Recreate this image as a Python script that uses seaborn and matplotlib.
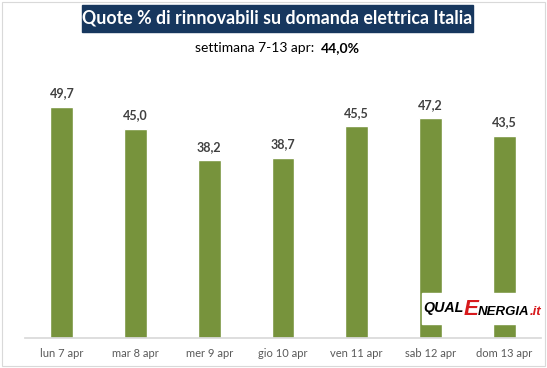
import matplotlib
matplotlib.use("Agg")
import matplotlib.pyplot as plt
import seaborn as sns
from matplotlib.patches import Rectangle

days = ["lun 7 apr", "mar 8 apr", "mer 9 apr", "gio 10 apr",
        "ven 11 apr", "sab 12 apr", "dom 13 apr"]
shares = [49.7, 45.0, 38.2, 38.7, 45.5, 47.2, 43.5]
title = "Quote % di rinnovabili su domanda elettrica Italia"
subtitle = "settimana 7-13 apr:"
weekly = "44,0%"

sns.set_theme(style="white")
plt.rcParams["font.family"] = ["Lato", "DejaVu Sans"]

fig = plt.figure(figsize=(5.47, 3.68), dpi=100)
ax = fig.add_axes([25 / 547, 1 - 338 / 368, 516 / 547, 270 / 368])

sns.barplot(x=days, y=shares, color="#77933C", width=0.31, saturation=1,
            ax=ax)
ax.set_ylim(0, 58)
ax.set_xlim(-0.5, 6.5)
ax.set_yticks([])
for s in ["top", "right", "left"]:
    ax.spines[s].set_visible(False)
ax.spines["bottom"].set_color("#D9D9D9")
ax.tick_params(axis="x", length=0, labelsize=8, labelcolor="#595959", pad=7)

for i, v in enumerate(shares):
    ax.text(i, v + 1.6, f"{v:.1f}".replace(".", ","), ha="center",
            va="bottom", fontsize=9, fontweight="bold", color="#404040")

# title box
fig.patches.append(Rectangle((82 / 547, 1 - 32 / 368), 391 / 547, 27 / 368,
                             transform=fig.transFigure, color="#17375E",
                             zorder=0))
fig.text(277 / 547, 1 - 18.5 / 368, title, ha="center", va="center",
         color="white", fontsize=12.8, fontweight="bold", zorder=5)
fig.text(318 / 547, 1 - 48 / 368, subtitle + " ", ha="right", va="center",
         fontsize=10, color="black")
fig.text(321 / 547, 1 - 48 / 368, weekly, ha="left", va="center",
         fontsize=10, fontweight="bold", color="black")

# logo
fig.patches.append(Rectangle((422 / 547, 1 - 324 / 368), 123 / 547, 31 / 368,
                             transform=fig.transFigure, color="white"))
lx, ly = 423 / 547, 1 - 312 / 368
t = fig.text(lx, ly, "QUAL", fontsize=10.3, fontweight="bold",
             style="italic", color="black", va="baseline",
             family="Liberation Sans")
fig.canvas.draw()
r = fig.canvas.get_renderer()
bb = t.get_window_extent(r)
t2 = fig.text(bb.x1 / 547, ly - 3 / 368, "E", fontsize=16, fontweight="bold",
              style="italic", color="#D7191C", va="baseline",
              family="Liberation Sans")
bb2 = t2.get_window_extent(r)
t3 = fig.text(bb2.x1 / 547, ly - 3 / 368, "NERGIA", fontsize=9.5,
              fontweight="bold", style="italic", color="black",
              va="baseline", family="Liberation Sans")
bb3 = t3.get_window_extent(r)
fig.text(bb3.x1 / 547, ly - 3 / 368, ".it", fontsize=9.5, fontweight="bold",
         style="italic", color="#D7191C", va="baseline",
         family="Liberation Sans")

# outer border
fig.patches.append(Rectangle((2 / 547, 2 / 368), 543 / 547, 364 / 368,
                             transform=fig.transFigure, fill=False,
                             edgecolor="#D9D9D9", linewidth=0.8))

fig.savefig("out.png", dpi=100)
